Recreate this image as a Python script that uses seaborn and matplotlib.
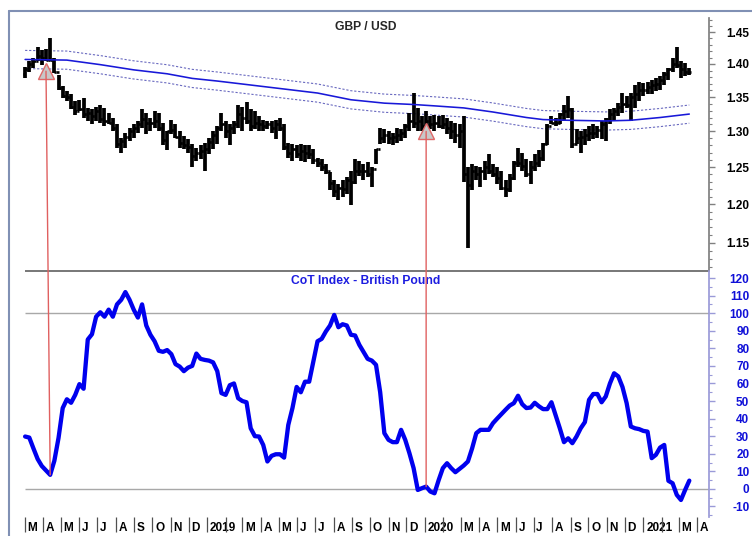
import numpy as np
import pandas as pd
import matplotlib
matplotlib.use('Agg')
import matplotlib.pyplot as plt
import matplotlib.ticker as mticker
import matplotlib.dates as mdates
from matplotlib.patches import ConnectionPatch
from matplotlib.lines import Line2D
from matplotlib.transforms import ScaledTranslation
import seaborn as sns

# Weekly GBP/USD bars, first bar week ending 2018-03-02
start_week = '2018-03-02'
first_open = 1.385

high = [1.396, 1.404, 1.409, 1.427, 1.422, 1.424, 1.441, 1.409, 1.383, 1.366,
        1.359, 1.354, 1.344, 1.346, 1.349, 1.334, 1.332, 1.336, 1.339, 1.334,
        1.327, 1.320, 1.310, 1.291, 1.298, 1.305, 1.310, 1.315, 1.332, 1.327,
        1.320, 1.329, 1.327, 1.312, 1.301, 1.317, 1.310, 1.301, 1.293, 1.289,
        1.282, 1.277, 1.280, 1.284, 1.291, 1.301, 1.308, 1.327, 1.315, 1.310,
        1.315, 1.339, 1.336, 1.343, 1.332, 1.329, 1.322, 1.317, 1.315, 1.315,
        1.317, 1.320, 1.310, 1.284, 1.282, 1.280, 1.282, 1.280, 1.280, 1.275,
        1.263, 1.261, 1.254, 1.243, 1.232, 1.227, 1.232, 1.236, 1.245, 1.261,
        1.259, 1.254, 1.257, 1.250, 1.275, 1.305, 1.303, 1.301, 1.298, 1.305,
        1.303, 1.310, 1.327, 1.356, 1.334, 1.322, 1.329, 1.322, 1.324, 1.322,
        1.324, 1.320, 1.315, 1.312, 1.310, 1.322, 1.250, 1.254, 1.252, 1.250,
        1.259, 1.268, 1.254, 1.250, 1.245, 1.232, 1.241, 1.259, 1.277, 1.270,
        1.261, 1.259, 1.268, 1.273, 1.284, 1.310, 1.322, 1.320, 1.327, 1.339,
        1.351, 1.334, 1.303, 1.301, 1.303, 1.308, 1.310, 1.308, 1.315, 1.320,
        1.332, 1.334, 1.341, 1.356, 1.351, 1.356, 1.368, 1.373, 1.371, 1.373,
        1.376, 1.378, 1.381, 1.388, 1.394, 1.409, 1.427, 1.404, 1.401, 1.394]

low = [1.378, 1.388, 1.394, 1.404, 1.399, 1.404, 1.404, 1.386, 1.361, 1.349,
       1.344, 1.332, 1.324, 1.329, 1.320, 1.315, 1.310, 1.315, 1.312, 1.308,
       1.310, 1.301, 1.277, 1.270, 1.277, 1.287, 1.291, 1.298, 1.305, 1.296,
       1.301, 1.305, 1.301, 1.280, 1.273, 1.296, 1.291, 1.277, 1.275, 1.270,
       1.250, 1.259, 1.261, 1.245, 1.268, 1.275, 1.282, 1.301, 1.291, 1.280,
       1.296, 1.305, 1.301, 1.310, 1.301, 1.303, 1.301, 1.301, 1.303, 1.298,
       1.289, 1.301, 1.273, 1.263, 1.259, 1.263, 1.259, 1.257, 1.261, 1.254,
       1.250, 1.245, 1.241, 1.219, 1.210, 1.205, 1.210, 1.214, 1.199, 1.227,
       1.238, 1.232, 1.236, 1.223, 1.254, 1.282, 1.284, 1.282, 1.280, 1.284,
       1.287, 1.291, 1.301, 1.305, 1.301, 1.301, 1.305, 1.303, 1.301, 1.305,
       1.303, 1.296, 1.289, 1.284, 1.277, 1.230, 1.143, 1.219, 1.232, 1.223,
       1.232, 1.241, 1.236, 1.227, 1.219, 1.210, 1.216, 1.232, 1.250, 1.245,
       1.236, 1.227, 1.245, 1.250, 1.259, 1.280, 1.310, 1.308, 1.310, 1.315,
       1.320, 1.277, 1.282, 1.270, 1.280, 1.287, 1.289, 1.291, 1.289, 1.287,
       1.310, 1.315, 1.322, 1.327, 1.334, 1.315, 1.334, 1.344, 1.351, 1.354,
       1.354, 1.359, 1.361, 1.368, 1.376, 1.388, 1.394, 1.378, 1.381, 1.383]

close = [1.392, 1.400, 1.405, 1.412, 1.410, 1.406, 1.406, 1.388, 1.364, 1.352,
         1.350, 1.336, 1.330, 1.333, 1.325, 1.327, 1.322, 1.330, 1.318, 1.315,
         1.312, 1.305, 1.282, 1.287, 1.292, 1.300, 1.305, 1.310, 1.318, 1.312,
         1.312, 1.315, 1.305, 1.288, 1.300, 1.302, 1.292, 1.283, 1.280, 1.278,
         1.265, 1.270, 1.272, 1.275, 1.285, 1.295, 1.305, 1.310, 1.300, 1.305,
         1.310, 1.325, 1.320, 1.315, 1.308, 1.312, 1.310, 1.308, 1.310, 1.305,
         1.310, 1.305, 1.278, 1.270, 1.275, 1.268, 1.272, 1.270, 1.268, 1.260,
         1.255, 1.250, 1.245, 1.228, 1.218, 1.222, 1.220, 1.232, 1.230, 1.245,
         1.245, 1.245, 1.240, 1.248, 1.275, 1.290, 1.295, 1.290, 1.292, 1.295,
         1.298, 1.308, 1.315, 1.312, 1.315, 1.308, 1.315, 1.310, 1.312, 1.308,
         1.310, 1.305, 1.300, 1.295, 1.300, 1.240, 1.225, 1.245, 1.240, 1.245,
         1.250, 1.245, 1.240, 1.235, 1.222, 1.220, 1.235, 1.255, 1.255, 1.252,
         1.240, 1.250, 1.255, 1.262, 1.282, 1.308, 1.312, 1.312, 1.325, 1.330,
         1.332, 1.282, 1.290, 1.292, 1.295, 1.298, 1.298, 1.302, 1.310, 1.318,
         1.325, 1.330, 1.335, 1.340, 1.338, 1.350, 1.355, 1.360, 1.360, 1.365,
         1.368, 1.370, 1.375, 1.385, 1.392, 1.400, 1.398, 1.392, 1.388, 1.388]

# moving average read at a handful of weeks, plus its envelope width
ma_week = [0, 10, 18, 26, 34, 40, 46, 54, 62, 70, 78, 86, 93, 98, 105, 112,
           120, 124, 130, 139, 145, 152, 159]
ma_value = [1.407, 1.406, 1.399, 1.391, 1.385, 1.378, 1.374, 1.368, 1.362,
            1.356, 1.346, 1.341, 1.339, 1.337, 1.334, 1.328, 1.320, 1.317,
            1.316, 1.315, 1.316, 1.320, 1.325]
band_pct = 1.0

cot_index = [29.8, 29.2, 23, 17, 13, 10.5, 8, 16, 29, 46,
             51, 49, 53.5, 59.6, 57, 85, 88, 98, 100.5, 98,
             102, 98, 105, 107.6, 112, 107.6, 102, 97.5, 105, 93,
             87.7, 84, 78.6, 78, 79, 76.7, 71, 69.6, 67, 69,
             70, 77, 74, 73.4, 73, 72, 67, 54.5, 53.5, 59,
             60, 51.6, 50, 49.3, 34.5, 30, 29.8, 25, 15.6, 18.8,
             19.7, 19.7, 17.8, 36.4, 46, 58, 55, 61, 61, 72.5,
             84, 85.4, 89.6, 93, 99, 92, 93.7, 93, 87.7, 87.3,
             82, 78, 74, 73, 70.6, 55, 31.7, 27.9, 26.6, 26.6,
             33.6, 27.9, 20.3, 11.8, -0.6, 0.4, 1.3, -1.5, -2.5, 5,
             11.8, 14.6, 11.8, 9.5, 11.4, 13.3, 15.6, 23, 31.7, 33.6,
             33.6, 33.6, 37.4, 40, 42.5, 45, 47.4, 48.8, 53, 48.2,
             46, 46.3, 49, 47, 45.4, 45.4, 49.3, 42, 34.5, 26.6,
             28.8, 26, 29.8, 34.5, 38, 50.7, 54, 54, 49.3, 52.6,
             60, 65.8, 64, 58, 48.8, 35.5, 34.5, 34, 33, 32.6,
             17.5, 19.4, 23.5, 25, 4.6, 3.2, -3.4, -6.3, -0.6, 4.7]

# buy signals: triangle on the price, line down to the CoT index
signal_week = [5, 96]
signal_price = [1.389, 1.300]
signal_cot_week = [6, 96]

price_ticks = [1.15, 1.20, 1.25, 1.30, 1.35, 1.40, 1.45]
cot_ticks = list(range(-10, 121, 10))

sns.set_theme(style='white')
plt.rcParams['font.family'] = ['Liberation Sans', 'DejaVu Sans']

weeks = pd.date_range(start_week, periods=len(close), freq='W-FRI')
opens = [first_open] + close[:-1]
W, H = 752, 536

fig = plt.figure(figsize=(W / 100, H / 100), dpi=100)
ax1 = fig.add_axes([9 / W, 1 - 271 / H, 700 / W, 260 / H])
ax2 = fig.add_axes([9 / W, 1 - 517 / H, 700 / W, 246 / H], sharex=ax1)

# --- price panel ---
ax1.set_yscale('log')
nub = pd.Timedelta(days=3.5)
ax1.vlines(weeks, low, high, color='black', lw=2.7, zorder=3)
ax1.hlines(opens, weeks - nub, weeks, color='black', lw=1.9, zorder=3)
ax1.hlines(close, weeks, weeks + nub, color='black', lw=1.9, zorder=3)

ma_dates = weeks[ma_week]
ma = np.array(ma_value)
sns.lineplot(x=ma_dates, y=ma, ax=ax1, color='#1818d8', lw=1.15, zorder=4)
for k in (1 + band_pct / 100, 1 - band_pct / 100):
    sns.lineplot(x=ma_dates, y=ma * k, ax=ax1, color='#6a6ac0', lw=0.8,
                 linestyle=(0, (2.0, 1.6)), zorder=2)

ax1.plot(weeks[signal_week], signal_price, ls='none', marker='^', ms=11,
         mfc='#c8c8c8', mec='#e06868', mew=1.0, zorder=6)

ax1.set_ylim(1.115, 1.484)
ax1.set_xlim(pd.Timestamp('2018-02-03'), pd.Timestamp('2021-04-21'))
ax1.yaxis.set_major_locator(mticker.FixedLocator(price_ticks))
ax1.yaxis.set_minor_locator(mticker.FixedLocator(
    [v / 100 for v in range(112, 148) if v % 5 != 0]))
ax1.yaxis.set_minor_formatter(mticker.NullFormatter())
ax1.set_yticks(price_ticks, labels=[f'{v:.2f}' for v in price_ticks],
               fontweight='bold', ha='right')
ax1.yaxis.tick_right()
ax1.tick_params(axis='y', which='major', right=True, length=4, width=1,
                color='#808080', pad=25, labelsize=8.5, labelcolor='black')
ax1.tick_params(axis='y', which='minor', right=True, length=2.5, width=0.8,
                color='#808080')
ax1.tick_params(axis='x', bottom=False, labelbottom=False)
for s in ['top', 'left', 'bottom']:
    ax1.spines[s].set_visible(False)
ax1.spines['right'].set_color('#808080')
ax1.spines['right'].set_bounds(1.115, 1.4725)
ax1.set_xlabel('')
ax1.set_ylabel('')
ax1.text(0.51, 1 - 16 / 260, 'GBP / USD', transform=ax1.transAxes,
         ha='center', va='center', fontsize=8.7, fontweight='bold')

# --- CoT panel ---
ax2.set_ylim(-16, 124)
ax2.hlines([100, 0], weeks[0], pd.Timestamp('2021-04-21'), color='#a8a8a8', lw=1)
ax2.hlines([124], weeks[0], pd.Timestamp('2021-04-21'), color='#606060', lw=1.2,
           clip_on=False)
sns.lineplot(x=weeks, y=cot_index, ax=ax2, color='#0000ee', lw=3.1, zorder=4)

ax2.set_yticks(cot_ticks, labels=[str(v) for v in cot_ticks],
               fontweight='bold', ha='right')
ax2.yaxis.set_minor_locator(mticker.FixedLocator(range(-15, 125, 10)))
ax2.yaxis.tick_right()
ax2.tick_params(axis='y', which='major', right=True, length=4, width=1,
                color='#9a9ad8', pad=25, labelsize=8.5, labelcolor='#1010d8')
ax2.tick_params(axis='y', which='minor', right=True, length=2.5, width=0.8,
                color='#9a9ad8')
for s in ['top', 'left', 'bottom']:
    ax2.spines[s].set_visible(False)
ax2.spines['right'].set_color('#9a9ad8')
ax2.set_xlabel('')
ax2.set_ylabel('')
ax2.text(0.51, 1 - 10 / 246, 'CoT Index - British Pound', transform=ax2.transAxes,
         ha='center', va='center', fontsize=8.7, fontweight='bold', color='#1c1ce0')

months = pd.date_range('2018-03-01', '2021-04-01', freq='MS')
month_labels = []
for m in months:
    if m.month == 1:
        month_labels.append(str(m.year))
    elif m.month == 2:
        month_labels.append('')
    else:
        month_labels.append('JFMAMJJASOND'[m.month - 1])
ax2.set_xticks(months, labels=month_labels, fontweight='bold', ha='left')
ax2.tick_params(axis='x', which='major', bottom=True, direction='out', length=11,
                width=0.9, color='#505050', pad=-7.5, labelsize=8.5, labelcolor='black')
shift = ScaledTranslation(2 / 72, 0, fig.dpi_scale_trans)
for lab in ax2.get_xticklabels():
    lab.set_transform(lab.get_transform() + shift)

# red signal lines from the price triangles down to the CoT line
for wp, pr, wc in zip(signal_week, signal_price, signal_cot_week):
    con = ConnectionPatch(xyA=(mdates.date2num(weeks[wp]), pr), coordsA=ax1.transData,
                          xyB=(mdates.date2num(weeks[wc]), cot_index[wc]),
                          coordsB=ax2.transData, color='#e06060', lw=1.0, zorder=1)
    fig.add_artist(con)

# outer frame, top and left
fig.add_artist(Line2D([9 / W, 9 / W], [0, 1 - 11 / H], color='#8090b4', lw=1.5,
                      transform=fig.transFigure))
fig.add_artist(Line2D([9 / W, 1], [1 - 11 / H, 1 - 11 / H], color='#8090b4', lw=1.5,
                      transform=fig.transFigure))

fig.savefig('out.png', dpi=100)
